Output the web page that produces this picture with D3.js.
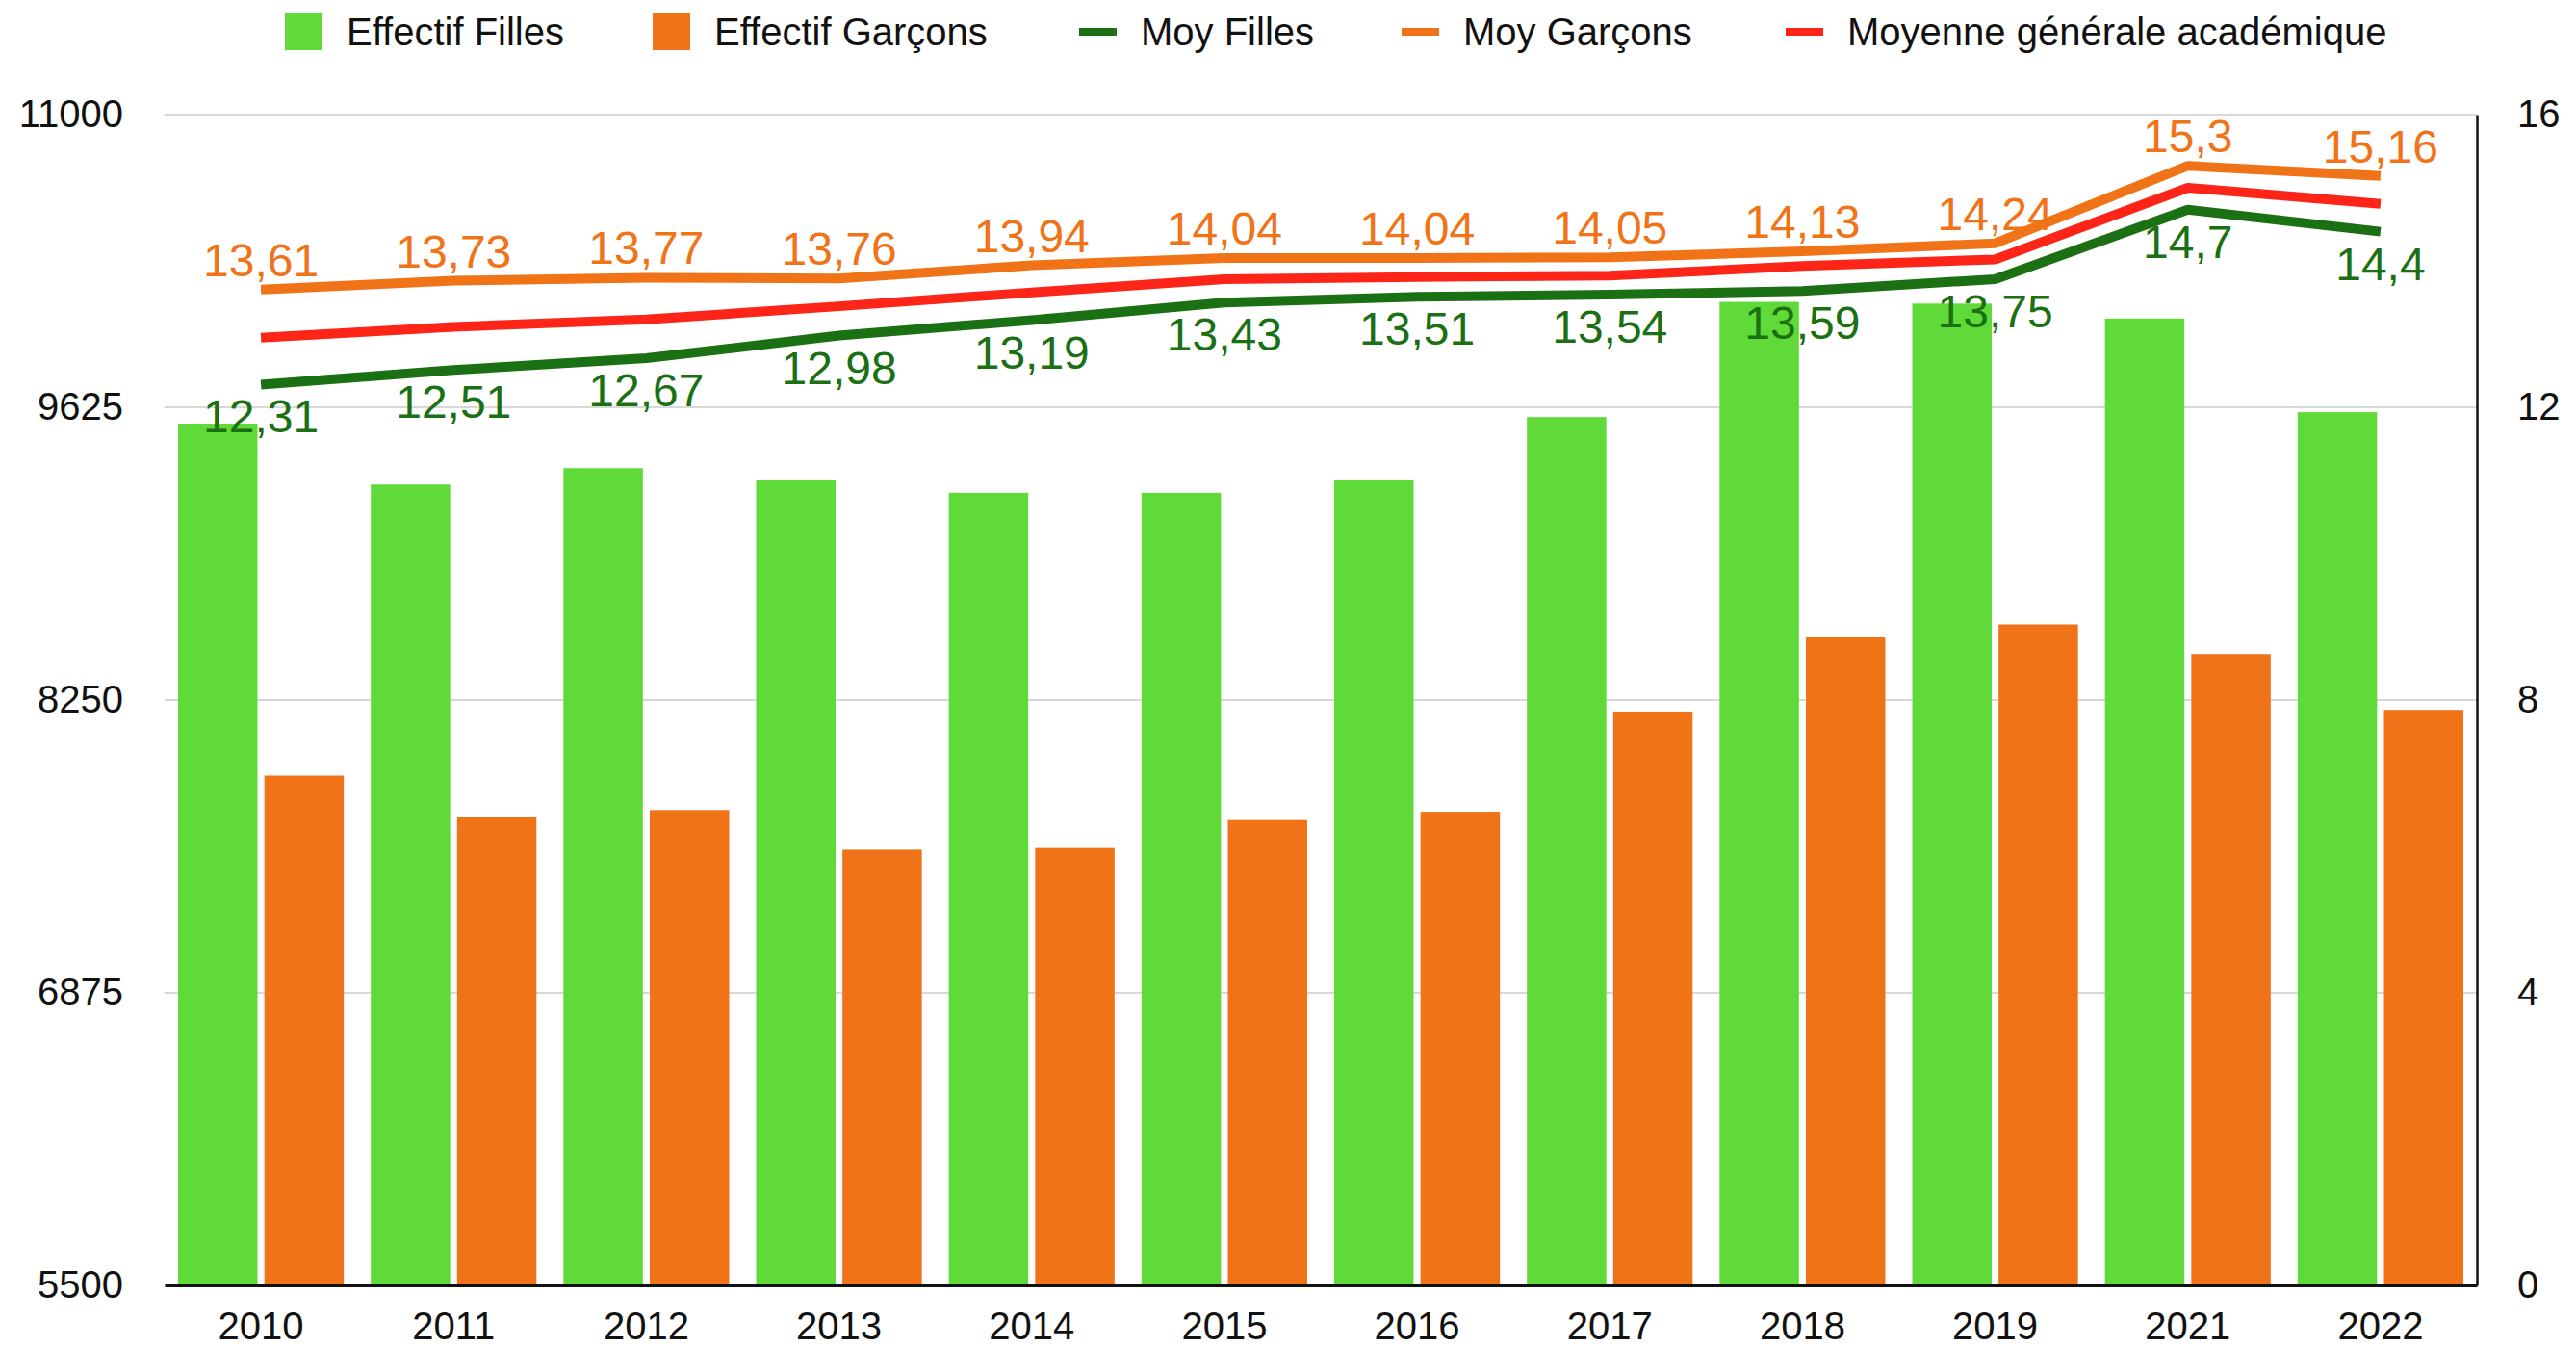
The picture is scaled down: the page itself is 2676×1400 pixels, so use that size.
<!DOCTYPE html>
<html>
<head>
<meta charset="utf-8">
<script src="https://cdn.jsdelivr.net/npm/d3@7"></script>
<style>
  body { margin: 0; background: #fff; }
  svg text { font-family: "Liberation Sans", Arial, Helvetica, sans-serif; }
</style>
</head>
<body>
<div id="chart"></div>
<script>
const years = ["2010","2011","2012","2013","2014","2015","2016","2017","2018","2019","2021","2022"];
const effectifFilles  = [9548, 9262, 9339, 9285, 9223, 9223, 9285, 9579, 10120, 10112, 10042, 9602];
const effectifGarcons = [7895, 7702, 7733, 7547, 7555, 7686, 7725, 8196, 8544, 8605, 8466, 8204];
const moyFilles   = [12.31, 12.51, 12.67, 12.98, 13.19, 13.43, 13.51, 13.54, 13.59, 13.75, 14.7, 14.4];
const moyGarcons  = [13.61, 13.73, 13.77, 13.76, 13.94, 14.04, 14.04, 14.05, 14.13, 14.24, 15.3, 15.16];
const moyGenerale = [12.95, 13.1, 13.2, 13.38, 13.57, 13.75, 13.78, 13.8, 13.93, 14.02, 15.0, 14.78];
const leftTicks  = [5500, 6875, 8250, 9625, 11000];
const rightTicks = [0, 4, 8, 12, 16];

const W = 2676, H = 1400;
const pLeft = 171, pRight = 2573, pTop = 119, pBottom = 1335;

const cGreen = "#60da38", cOrange = "#f07318", cDark = "#1a7012", cRed = "#fc2518";

const svg = d3.select("#chart").append("svg")
  .attr("width", W).attr("height", H);

const x0 = d3.scaleBand().domain(years).range([pLeft, pRight])
  .paddingInner(0.14).paddingOuter(0.07);
const x1 = d3.scaleBand().domain(["f", "g"]).range([0, x0.bandwidth()])
  .paddingInner(0.08);
const yL = d3.scaleLinear().domain([5500, 11000]).range([pBottom, pTop]);
const yR = d3.scaleLinear().domain([0, 16]).range([pBottom, pTop]);

// gridlines
svg.append("g").selectAll("line")
  .data(leftTicks.slice(1))
  .enter().append("line")
  .attr("x1", pLeft).attr("x2", pRight)
  .attr("y1", d => yL(d)).attr("y2", d => yL(d))
  .attr("stroke", "#d8d8d8").attr("stroke-width", 2);

// bars
const rows = years.map((y, i) => ({year: y, f: effectifFilles[i], g: effectifGarcons[i]}));
const grp = svg.append("g").selectAll("g")
  .data(rows).enter().append("g")
  .attr("transform", d => `translate(${x0(d.year)},0)`);
grp.append("rect")
  .attr("x", x1("f")).attr("width", x1.bandwidth())
  .attr("y", d => yL(d.f)).attr("height", d => pBottom - yL(d.f))
  .attr("fill", cGreen);
grp.append("rect")
  .attr("x", x1("g")).attr("width", x1.bandwidth())
  .attr("y", d => yL(d.g)).attr("height", d => pBottom - yL(d.g))
  .attr("fill", cOrange);

// axes
const axL = svg.append("g").attr("transform", `translate(${pLeft},0)`)
  .call(d3.axisLeft(yL).tickValues(leftTicks).tickFormat(d3.format("d"))
    .tickSize(0).tickPadding(43));
axL.select(".domain").remove();

const axR = svg.append("g").attr("transform", `translate(${pRight},0)`)
  .call(d3.axisRight(yR).tickValues(rightTicks).tickSize(0).tickPadding(42));
axR.select(".domain").attr("stroke", "#111").attr("stroke-width", 2.5);

const axB = svg.append("g").attr("transform", `translate(0,${pBottom})`)
  .call(d3.axisBottom(x0).tickSize(0).tickPadding(28));
axB.select(".domain").attr("stroke", "#111").attr("stroke-width", 3);

svg.selectAll(".tick text").attr("font-size", 40).attr("fill", "#111")
  .style("font-family", "'Liberation Sans', Arial, sans-serif");

// lines
const cx = i => x0(years[i]) + x0.bandwidth() / 2;
const line = d3.line().x((d, i) => cx(i)).y(d => yR(d));
[[moyFilles, cDark], [moyGenerale, cRed], [moyGarcons, cOrange]].forEach(([vals, col]) => {
  svg.append("path").datum(vals)
    .attr("d", line)
    .attr("fill", "none").attr("stroke", col)
    .attr("stroke-width", 10).attr("stroke-linejoin", "round");
});

// value labels
const fmt = v => String(v).replace(".", ",");
svg.append("g").selectAll("text")
  .data(moyGarcons).enter().append("text")
  .attr("x", (d, i) => cx(i)).attr("y", d => yR(d) - 14)
  .attr("text-anchor", "middle").attr("font-size", 48)
  .attr("fill", cOrange).text(fmt);
svg.append("g").selectAll("text")
  .data(moyFilles).enter().append("text")
  .attr("x", (d, i) => cx(i)).attr("y", d => yR(d) + 50)
  .attr("text-anchor", "middle").attr("font-size", 48)
  .attr("fill", cDark).text(fmt);

// legend
const legend = [
  {label: "Effectif Filles", color: cGreen, type: "box", x: 296},
  {label: "Effectif Garçons", color: cOrange, type: "box", x: 678},
  {label: "Moy Filles", color: cDark, type: "line", x: 1121},
  {label: "Moy Garçons", color: cOrange, type: "line", x: 1456},
  {label: "Moyenne générale académique", color: cRed, type: "line", x: 1855}
];
const lg = svg.append("g").selectAll("g")
  .data(legend).enter().append("g")
  .attr("transform", d => `translate(${d.x},0)`);
lg.append("rect")
  .attr("x", 0).attr("width", 39)
  .attr("y", d => d.type === "box" ? 14 : 29)
  .attr("height", d => d.type === "box" ? 38 : 8)
  .attr("fill", d => d.color);
lg.append("text")
  .attr("x", 64).attr("y", 47)
  .attr("font-size", 40).attr("fill", "#111")
  .text(d => d.label);
</script>
</body>
</html>
